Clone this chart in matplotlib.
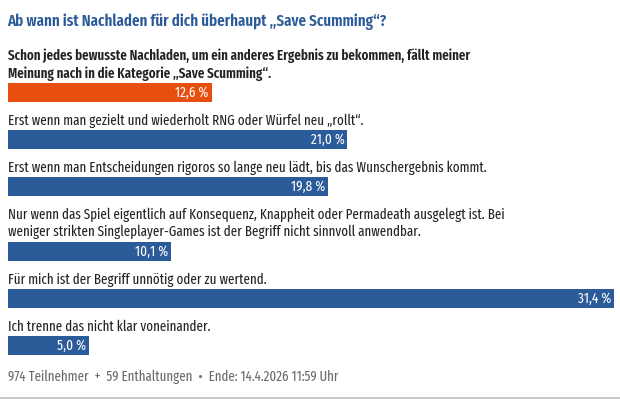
import matplotlib.pyplot as plt
from matplotlib.lines import Line2D

title = "Ab wann ist Nachladen für dich überhaupt „Save Scumming“?"
answers = [
    "Schon jedes bewusste Nachladen, um ein anderes Ergebnis zu bekommen, fällt meiner\nMeinung nach in die Kategorie „Save Scumming“.",
    "Erst wenn man gezielt und wiederholt RNG oder Würfel neu „rollt“.",
    "Erst wenn man Entscheidungen rigoros so lange neu lädt, bis das Wunschergebnis kommt.",
    "Nur wenn das Spiel eigentlich auf Konsequenz, Knappheit oder Permadeath ausgelegt ist. Bei\nweniger strikten Singleplayer-Games ist der Begriff nicht sinnvoll anwendbar.",
    "Für mich ist der Begriff unnötig oder zu wertend.",
    "Ich trenne das nicht klar voneinander.",
]
percent = [12.6, 21.0, 19.8, 10.1, 31.4, 5.0]
own_answer = [True, False, False, False, False, False]
footer = "974 Teilnehmer  +  59 Enthaltungen  •  Ende: 14.4.2026 11:59 Uhr"

BLUE = "#2c5b99"
ORANGE = "#e84f0f"
XMAX = 37.5

plt.rcParams['font.family'] = ['Fira Sans Extra Condensed', 'DejaVu Sans']

fig = plt.figure(figsize=(6.2, 3.99), dpi=100)
ax = fig.add_axes([8 / 620, 0, 606 / 620, 1])
ax.set_xlim(0, XMAX)
ax.set_ylim(399, 0)
ax.axis("off")

ax.text(-0.03, 22, title, fontsize=11.7, fontweight="semibold", color=BLUE, va="center")

y = 37  # bottom of previous block (pixels from top)
top_value = max(percent)
for label, val, own in zip(answers, percent, own_answer):
    lines = label.split("\n")
    first = y + 18.5
    ax.text(0, first + 9 * (len(lines) - 1), label, fontsize=10.15,
            fontweight="semibold" if own else "normal", color="#222222",
            va="center", linespacing=1.28)
    bar_top = first + 18 * (len(lines) - 1) + 9.5
    width = XMAX if val == top_value else val
    ax.barh(bar_top + 9.5, width, height=19, left=0,
            color=ORANGE if own else BLUE)
    ax.text(width - 0.18, bar_top + 10, f"{val:.1f} %".replace(".", ","),
            fontsize=10.3, color="white", ha="right", va="center")
    y = bar_top + 19

ax.text(0, 377, footer, fontsize=10.1, color="#6b6b6b", va="center")

fig.add_artist(Line2D([0, 1], [0.6 / 399, 0.6 / 399], color="#c8c8c8", lw=1.5))

fig.savefig("out.png", dpi=100)
